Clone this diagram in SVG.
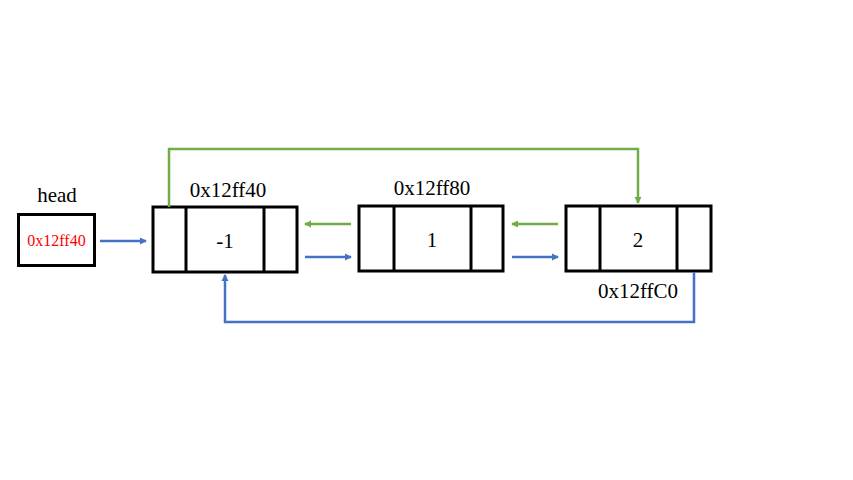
<svg xmlns="http://www.w3.org/2000/svg" width="853" height="480" viewBox="0 0 853 480">
<style>
.box{fill:#fff;stroke:#000;stroke-width:3}
.div{stroke:#000;stroke-width:3}
.t{font-family:"Liberation Serif","DejaVu Serif",serif;font-size:21px;fill:#000;text-anchor:middle}
.b{fill:none;stroke:#4472C4;stroke-width:2.5}
.g{fill:none;stroke:#70AD47;stroke-width:2.5}
</style>
<defs>
<marker id="ab" markerWidth="8" markerHeight="8" refX="6" refY="4" orient="auto" markerUnits="userSpaceOnUse"><path d="M0,0.5 L7,4 L0,7.5 Z" fill="#4472C4"/></marker>
<marker id="ag" markerWidth="8" markerHeight="8" refX="6" refY="4" orient="auto" markerUnits="userSpaceOnUse"><path d="M0,0.5 L7,4 L0,7.5 Z" fill="#70AD47"/></marker>
</defs>
<rect width="853" height="480" fill="#fff"/>
<g id="head">
<text class="t" x="57" y="202">head</text>
<rect class="box" x="18.5" y="214.5" width="76" height="51"/>
<text class="t" x="56.5" y="246" style="font-size:16px;fill:#FF0000">0x12ff40</text>
</g>
<g id="node1">
<rect class="box" x="153" y="207" width="144" height="65"/>
<line class="div" x1="186" y1="207" x2="186" y2="272"/>
<line class="div" x1="264" y1="207" x2="264" y2="272"/>
<text class="t" x="225" y="248">-1</text>
<text class="t" x="228" y="197">0x12ff40</text>
</g>
<g id="node2">
<rect class="box" x="359" y="206" width="144" height="65"/>
<line class="div" x1="394" y1="206" x2="394" y2="271"/>
<line class="div" x1="471" y1="206" x2="471" y2="271"/>
<text class="t" x="432" y="247">1</text>
<text class="t" x="432" y="195">0x12ff80</text>
</g>
<g id="node3">
<rect class="box" x="566" y="206" width="145" height="65"/>
<line class="div" x1="600" y1="206" x2="600" y2="271"/>
<line class="div" x1="677" y1="206" x2="677" y2="271"/>
<text class="t" x="638" y="247">2</text>
<text class="t" x="638" y="298">0x12ffC0</text>
</g>
<g id="connectors">
<line class="b" x1="100" y1="241" x2="146" y2="241" marker-end="url(#ab)"/>
<line class="g" x1="351" y1="224" x2="305" y2="224" marker-end="url(#ag)"/>
<line class="b" x1="305" y1="257" x2="351" y2="257" marker-end="url(#ab)"/>
<line class="g" x1="558" y1="224" x2="512" y2="224" marker-end="url(#ag)"/>
<line class="b" x1="512" y1="257" x2="558" y2="257" marker-end="url(#ab)"/>
<polyline class="g" points="169,207 169,149 638,149 638,203" marker-end="url(#ag)"/>
<polyline class="b" points="694,272 694,322 225,322 225,275" marker-end="url(#ab)"/>
</g>
</svg>
